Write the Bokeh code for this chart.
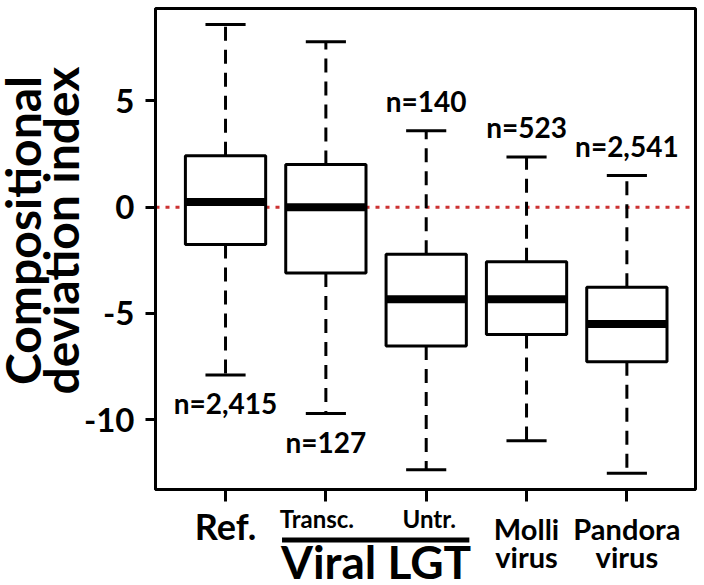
import math
from bokeh.plotting import figure
from bokeh.layouts import row, column
from bokeh.models import Label, Span, FixedTicker, ColumnDataSource, Range1d
from bokeh.core.properties import value
from bokeh.embed import file_html
from bokeh.resources import INLINE

# ---------------- data ----------------
categories = ["Ref.", "Transc.", "Untr.", "Molli virus", "Pandora virus"]
whisker_high = [8.6, 7.78, 3.6, 2.36, 1.49]
q3 = [2.42, 2.01, -2.22, -2.57, -3.77]
median = [0.24, 0.0, -4.34, -4.34, -5.5]
q1 = [-1.76, -3.1, -6.54, -5.99, -7.28]
whisker_low = [-7.9, -9.71, -12.36, -11.0, -12.52]
n_labels = ["n=2,415", "n=127", "n=140", "n=523", "n=2,541"]
n_side = ["below", "below", "above", "above", "above"]
y_ticks = [-10, -5, 0, 5]
y_tick_labels = ["-10", "-5", "0", "5"]
x_label_lines = [["Ref."], ["Transc."], ["Untr."], ["Molli", "virus"], ["Pandora", "virus"]]
group_label = "Viral LGT"
group_members = [1, 2]  # indices of Transc., Untr.
y_title_lines = ["Compositional", "deviation index"]

FONT = "Lato"
BFIX = 0.37          # em offset between requested and drawn baseline
pos = [i + 1 for i in range(len(categories))]

TITLE_W = 80
MAIN_W = 620
MAIN_H = 504
TOTAL_H = 585

# ---------------- main plot ----------------
p = figure(width=MAIN_W, height=MAIN_H, x_range=Range1d(0.302, 5.684),
           y_range=Range1d(-13.29, 9.35),
           output_backend="svg", toolbar_location=None,
           min_border_left=73, min_border_right=5, min_border_top=8, min_border_bottom=15)
p.grid.visible = False
p.outline_line_color = "black"
p.outline_line_width = 3
p.background_fill_color = "white"
p.border_fill_color = "white"

ya = p.yaxis[0]
ya.ticker = FixedTicker(ticks=y_ticks)
ya.major_label_overrides = {t: l for t, l in zip(y_ticks, y_tick_labels)}
ya.major_label_text_font = FONT
ya.major_label_text_font_style = "bold"
ya.major_label_text_font_size = "33px"
ya.major_label_text_color = "black"
ya.major_label_standoff = 11
ya.major_tick_out = 10
ya.major_tick_in = 0
ya.major_tick_line_width = 3
ya.minor_tick_out = 0
ya.minor_tick_in = 0
ya.axis_line_width = 3

xa = p.xaxis[0]
xa.ticker = FixedTicker(ticks=pos)
xa.major_label_overrides = {x: "" for x in pos}
xa.major_label_text_font_size = "1px"
xa.major_label_standoff = 0
xa.major_tick_out = 12
xa.major_tick_in = 0
xa.major_tick_line_width = 3
xa.minor_tick_out = 0
xa.minor_tick_in = 0
xa.axis_line_width = 3

p.add_layout(Span(location=0, dimension="width", line_color="#cc3333",
                  line_width=3, line_dash="4 6", level="underlay"))

src = ColumnDataSource(dict(x=pos, hi=whisker_high, q3=q3, med=median, q1=q1, lo=whisker_low,
                            cl=[x - 0.2 for x in pos], cr=[x + 0.2 for x in pos],
                            ml=[x - 0.4 for x in pos], mr=[x + 0.4 for x in pos]))

p.segment(x0="x", y0="q3", x1="x", y1="hi", source=src, line_color="black",
          line_width=3, line_dash="14 9")
p.segment(x0="x", y0="q1", x1="x", y1="lo", source=src, line_color="black",
          line_width=3, line_dash="14 9")
p.segment(x0="cl", y0="hi", x1="cr", y1="hi", source=src, line_color="black", line_width=3)
p.segment(x0="cl", y0="lo", x1="cr", y1="lo", source=src, line_color="black", line_width=3)
p.vbar(x="x", width=0.8, top="q3", bottom="q1", source=src, fill_color="white",
       line_color="black", line_width=3)
p.segment(x0="ml", y0="med", x1="mr", y1="med", source=src, line_color="black",
          line_width=8, line_cap="butt")

N_SIZE = 28
y_px = 480.0 / (9.35 + 13.29)          # pixels per data unit on y
fix_units = BFIX * N_SIZE / y_px
for x, hi, lo, txt, side in zip(pos, whisker_high, whisker_low, n_labels, n_side):
    y = (lo - 1.81 if side == "below" else hi + 0.92) + fix_units
    p.add_layout(Label(x=x, y=y, text=txt, text_font=FONT, text_font_style="bold",
                       text_font_size=f"{N_SIZE}px", text_align="center",
                       text_baseline="alphabetic", text_color="black"))

# ---------------- category labels (below the plot) ----------------
xl = figure(width=MAIN_W, height=TOTAL_H - MAIN_H, x_range=p.x_range,
            y_range=Range1d(TOTAL_H, MAIN_H),
            output_backend="svg", toolbar_location=None,
            x_axis_location=None, y_axis_location=None,
            min_border_left=73, min_border_right=5, min_border_top=0, min_border_bottom=0)
xl.grid.visible = False
xl.outline_line_color = None
xl.background_fill_color = "white"
xl.border_fill_color = "white"


def put(fig, x, base, txt, size, angle=0.0):
    fig.text(x=[x], y=[base - BFIX * size], text=[txt], angle=angle,
             text_font=value(FONT), text_font_style="bold", text_font_size=f"{size}px",
             text_align="center", text_baseline="alphabetic", text_color="black")


for i, (x, lines) in enumerate(zip(pos, x_label_lines)):
    if i in group_members:
        dx = -0.09 if i == group_members[0] else 0.03
        put(xl, x + dx, 526.5, lines[0], 24)
    elif len(lines) == 1:
        put(xl, x, 539.3, lines[0], 36)
    else:
        for j, ln in enumerate(lines):
            put(xl, x, 538.8 if j == 0 else 566.7, ln, 29)

g0 = pos[group_members[0]]
g1 = pos[group_members[1]]
xl.segment(x0=[g0 - 0.437], y0=[539.5], x1=[g1 + 0.43], y1=[539.5],
           line_width=5, line_color="black", line_cap="butt")
put(xl, (g0 + g1) / 2, 578.3, group_label, 46)

# ---------------- y-axis title ----------------
yt = figure(width=TITLE_W, height=TOTAL_H, x_range=Range1d(0, TITLE_W),
            y_range=Range1d(TOTAL_H, 0),
            output_backend="svg", toolbar_location=None,
            x_axis_location=None, y_axis_location=None,
            min_border_left=0, min_border_right=0, min_border_top=0, min_border_bottom=0)
yt.grid.visible = False
yt.outline_line_color = None
yt.background_fill_color = "white"
yt.border_fill_color = "white"
T_SIZE = 48
for bx, ln in zip([40, 78], y_title_lines):
    yt.text(x=[bx - BFIX * T_SIZE], y=[230], text=[ln], angle=math.pi / 2,
            text_font=value(FONT), text_font_style="bold", text_font_size=f"{T_SIZE}px",
            text_align="center", text_baseline="alphabetic", text_color="black")

layout = row(yt, column(p, xl, spacing=0), spacing=0)
open("out.html", "w").write(file_html(layout, INLINE))
